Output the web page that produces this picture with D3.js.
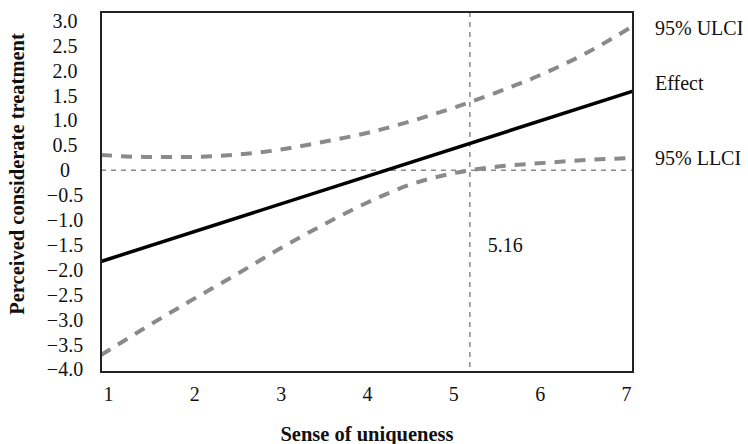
<!DOCTYPE html>
<html>
<head>
<meta charset="utf-8">
<script src="https://cdn.jsdelivr.net/npm/d3@7"></script>
<style>
  html, body { margin: 0; padding: 0; background: #fff; }
  svg { display: block; }
</style>
</head>
<body>
<svg id="chart" width="748" height="444"></svg>
<script>
// Moderator values (sense of uniqueness) where the confidence bounds are given
const moderator = [1, 1.5, 2, 2.5, 3, 3.5, 4, 4.5, 5, 5.5, 6, 6.5, 7];
// Upper and lower 95% confidence limits of the conditional effect
const ulci = [0.31, 0.27, 0.27, 0.31, 0.41, 0.57, 0.75, 0.99, 1.27, 1.59, 1.95, 2.38, 2.90];
const llci = [-3.71, -3.16, -2.63, -2.12, -1.59, -1.10, -0.65, -0.28, -0.05, 0.08, 0.15, 0.21, 0.25];
// Conditional effect (straight line between the ends of the moderator range)
const effectX = [1, 7];
const effectY = [-1.83, 1.59];
// Johnson–Neyman point
const jnPoint = 5.16;
const jnLabel = "5.16";

const xTicks = [1, 2, 3, 4, 5, 6, 7];
const yTicks = [3, 2.5, 2, 1.5, 1, 0.5, 0, -0.5, -1, -1.5, -2, -2.5, -3, -3.5, -4];
const yTickLabels = ["3.0", "2.5", "2.0", "1.5", "1.0", "0.5", "0", "\u22120.5", "\u22121.0",
  "\u22121.5", "\u22122.0", "\u22122.5", "\u22123.0", "\u22123.5", "\u22124.0"];
const seriesNames = ["95% ULCI", "Effect", "95% LLCI"];
const xTitle = "Sense of uniqueness";
const yTitle = "Perceived considerate treatment";

const FONT = "'Liberation Serif', 'Times New Roman', serif";
const GREY = "#8a8a8a";
const TEXT_SIZE = 20;
const TITLE_SIZE = 20.5;

const svg = d3.select("#chart");

const plotLeft = 101, plotRight = 633, plotTop = 12, plotBottom = 372;
const x = d3.scaleLinear().domain([1, 7]).range([plotLeft, plotRight]);
const xLab = d3.scalePoint().domain(xTicks).range([plotLeft, plotRight]).padding(0.08);
const y = d3.scaleLinear().domain([-4.05, 3.18]).range([plotBottom, plotTop]);

// Reference lines: zero effect and the Johnson–Neyman point
svg.append("line")
  .attr("x1", x(1)).attr("x2", x(7))
  .attr("y1", y(0)).attr("y2", y(0))
  .attr("stroke", GREY).attr("stroke-width", 1.5)
  .attr("stroke-dasharray", "5,5");
svg.append("line")
  .attr("x1", x(jnPoint)).attr("x2", x(jnPoint))
  .attr("y1", plotTop).attr("y2", plotBottom)
  .attr("stroke", GREY).attr("stroke-width", 1.5)
  .attr("stroke-dasharray", "5,5");

// Confidence bands
const line = d3.line()
  .x(d => x(d[0]))
  .y(d => y(d[1]))
  .curve(d3.curveMonotoneX);

[ulci, llci].forEach(vals => {
  svg.append("path")
    .datum(moderator.map((m, i) => [m, vals[i]]))
    .attr("d", line)
    .attr("fill", "none")
    .attr("stroke", GREY)
    .attr("stroke-width", 4)
    .attr("stroke-dasharray", "11,9");
});

// Conditional effect
svg.append("path")
  .datum(effectX.map((m, i) => [m, effectY[i]]))
  .attr("d", d3.line().x(d => x(d[0])).y(d => y(d[1])))
  .attr("fill", "none")
  .attr("stroke", "#000")
  .attr("stroke-width", 3.5);

// Plot frame
svg.append("rect")
  .attr("x", plotLeft).attr("y", plotTop)
  .attr("width", plotRight - plotLeft).attr("height", plotBottom - plotTop)
  .attr("fill", "none")
  .attr("stroke", "#222")
  .attr("stroke-width", 2);

// Y axis labels
const yAxis = svg.append("g")
  .attr("transform", `translate(${plotLeft},0)`)
  .call(d3.axisLeft(y).tickValues(yTicks).tickSize(0)
    .tickFormat((d, i) => yTickLabels[i]));
yAxis.select(".domain").remove();
yAxis.selectAll("text")
  .attr("x", -36)
  .attr("text-anchor", "middle")
  .attr("font-family", FONT)
  .attr("font-size", TEXT_SIZE)
  .attr("fill", "#111");

// X axis labels
const xAxis = svg.append("g")
  .attr("transform", `translate(0,${plotBottom})`)
  .call(d3.axisBottom(xLab).tickSize(0));
xAxis.select(".domain").remove();
xAxis.selectAll("text")
  .attr("y", 0)
  .attr("dy", 29)
  .attr("font-family", FONT)
  .attr("font-size", TEXT_SIZE)
  .attr("fill", "#111");

// Axis titles
svg.append("text")
  .attr("x", (plotLeft + plotRight) / 2).attr("y", 441)
  .attr("text-anchor", "middle")
  .attr("font-family", FONT).attr("font-size", TITLE_SIZE).attr("font-weight", "bold")
  .attr("fill", "#111")
  .text(xTitle);
svg.append("text")
  .attr("transform", "translate(24,174) rotate(-90)")
  .attr("text-anchor", "middle")
  .attr("font-family", FONT).attr("font-size", TITLE_SIZE).attr("font-weight", "bold")
  .attr("fill", "#111")
  .text(yTitle);

// Series labels at the right end of each line
const ends = [ulci[ulci.length - 1], effectY[effectY.length - 1], llci[llci.length - 1]];
const nudges = [9, -1, 7];
svg.selectAll(".series-label")
  .data(seriesNames)
  .join("text")
  .attr("class", "series-label")
  .attr("x", 655)
  .attr("y", (d, i) => y(ends[i]) + nudges[i])
  .attr("font-family", FONT).attr("font-size", TEXT_SIZE)
  .attr("fill", "#111")
  .text(d => d);

// Johnson–Neyman value
svg.append("text")
  .attr("x", x(jnPoint) + 18).attr("y", 252)
  .attr("font-family", FONT).attr("font-size", TEXT_SIZE)
  .attr("fill", "#111")
  .text(jnLabel);
</script>
</body>
</html>
